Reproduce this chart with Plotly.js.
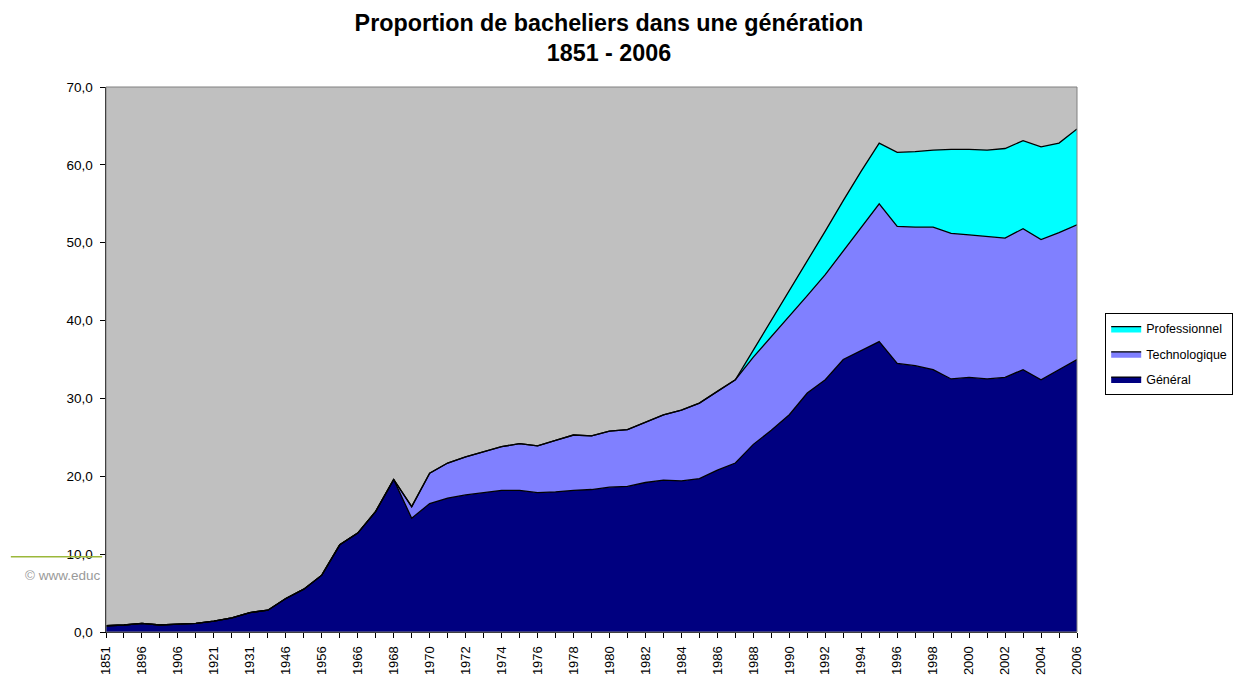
<!DOCTYPE html>
<html>
<head>
<meta charset="utf-8">
<script src="https://cdn.plot.ly/plotly-3.0.1.min.js"></script>
<style>html,body{margin:0;padding:0;background:#fff;}#chart{width:1239px;height:684px;}</style>
</head>
<body>
<div id="chart"></div>
<script>
const years = ['1851','1881','1896','1901','1906','1911','1921','1926','1931','1936','1946','1951','1956','1961','1966','1967',
  '1968','1969','1970','1971','1972','1973','1974','1975','1976','1977','1978','1979','1980','1981','1982','1983','1984','1985',
  '1986','1987','1988','1989','1990','1991','1992','1993','1994','1995','1996','1997','1998','1999','2000','2001','2002','2003',
  '2004','2005','2006'];
const shownLabels = ['1851','1896','1906','1921','1931','1946','1956','1966','1968','1970','1972','1974','1976','1978','1980',
  '1982','1984','1986','1988','1990','1992','1994','1996','1998','2000','2002','2004','2006'];
const general = [0.8,0.9,1.1,0.9,1.0,1.1,1.4,1.8,2.5,2.8,4.3,5.5,7.3,11.2,12.7,15.5,
  19.6,14.6,16.5,17.2,17.6,17.9,18.2,18.2,17.9,18.0,18.2,18.3,18.6,18.7,19.2,19.5,19.4,19.7,
  20.8,21.7,24.1,25.9,27.9,30.7,32.4,35.0,36.1,37.3,34.5,34.2,33.7,32.5,32.7,32.5,32.7,33.7,
  32.4,33.7,35.0];
const technologique = [0,0,0,0,0,0,0,0,0,0,0,0,0,0,0,0,
  0,1.5,3.9,4.5,4.9,5.3,5.6,6.0,6.0,6.6,7.1,6.9,7.2,7.3,7.8,8.4,9.1,9.7,
  10.1,10.7,11.2,12.0,12.7,12.5,13.5,13.9,15.9,17.7,17.6,17.8,18.3,18.7,18.3,18.3,17.9,18.1,
  18.0,17.6,17.3];
const professionnel = [0,0,0,0,0,0,0,0,0,0,0,0,0,0,0,0,
  0,0,0,0,0,0,0,0,0,0,0,0,0,0,0,0,0,0,
  0,0,0.9,2.1,3.2,4.5,5.6,6.5,7.2,7.8,9.5,9.7,9.9,10.8,11.0,11.1,11.5,11.3,
  11.9,11.5,12.3];

const common = {type:'scatter', mode:'lines', stackgroup:'one', x:years, line:{color:'#000000', width:1.3}, hoverinfo:'x+y+name'};
const traces = [
  Object.assign({}, common, {name:'Général', legendgroup:'g', legendrank:3, y:general, fillcolor:'#000080'}),
  Object.assign({}, common, {name:'Technologique', legendgroup:'t', legendrank:2, y:technologique, fillcolor:'#8080ff'}),
  Object.assign({}, common, {name:'Professionnel', legendgroup:'p', legendrank:1, y:professionnel, fillcolor:'#00ffff'})
];

const layout = {
  width:1239, height:684,
  margin:{l:106, r:162, t:87, b:52},
  paper_bgcolor:'#ffffff',
  plot_bgcolor:'#c0c0c0',
  separators:', ',
  font:{family:'Liberation Sans, Arial, sans-serif', color:'#000000', size:12},
  title:{text:'<b>Proportion de bacheliers dans une génération<br>1851 - 2006</b>',
    x:0.518, xanchor:'center', xref:'paper', y:0.955, yanchor:'top',
    font:{family:'Liberation Sans, Arial, sans-serif', size:23.3, color:'#000000'}},
  xaxis:{type:'category', range:[0, years.length-1], tickvals:years,
    ticktext:years.map(y => shownLabels.includes(y) ? y : ''),
    tickangle:-90, ticks:'outside', ticklen:5, tickcolor:'#000', showgrid:false, zeroline:false,
    showline:true, linecolor:'#000', linewidth:1, mirror:false, tickfont:{size:13}, ticklabelstandoff:3},
  yaxis:{range:[0,70], dtick:10, tickformat:'.1f', ticks:'outside', ticklen:5, tickcolor:'#000',
    showgrid:false, zeroline:false, showline:true, linecolor:'#000', linewidth:1.5, tickfont:{size:13.5},
    ticklabelstandoff:4},
  legend:{xref:'container', yref:'container', x:0.892, xanchor:'left', y:0.5424, yanchor:'top', traceorder:'grouped',
    bordercolor:'#000', borderwidth:1, bgcolor:'#ffffff', font:{size:12.5}, itemwidth:30, tracegroupgap:6},
  shapes:[
    {type:'rect', xref:'paper', yref:'paper', x0:0, x1:1, y0:0, y1:1, line:{color:'#808080', width:1}, layer:'above'},
    {type:'line', xref:'paper', yref:'paper', x0:-0.098, x1:-0.004, y0:0.138, y1:0.138, line:{color:'#9bb83a', width:1.5}}
  ],
  annotations:[
    {text:'© www.educ', xref:'paper', yref:'paper', x:-0.004, y:0.104, xanchor:'right', yanchor:'middle',
     showarrow:false, font:{size:13.5, color:'#9a9a9a'}}
  ]
};
Plotly.newPlot('chart', traces, layout, {displayModeBar:false, staticPlot:true});
</script>
</body>
</html>
